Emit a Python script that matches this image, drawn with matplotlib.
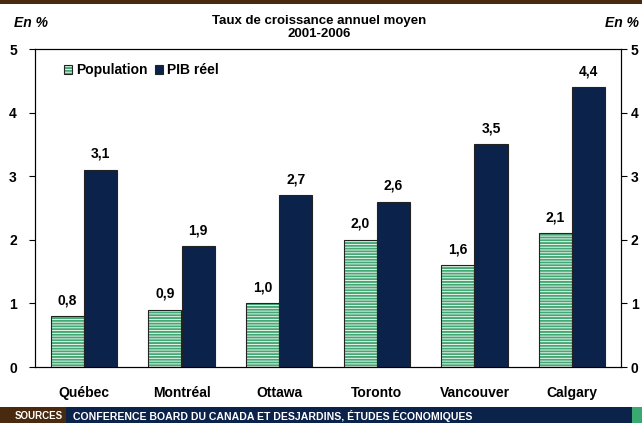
import numpy as np
import matplotlib.pyplot as plt
from matplotlib.patches import Rectangle

# Data
villes = ['Québec', 'Montréal', 'Ottawa', 'Toronto', 'Vancouver', 'Calgary']
population = [0.8, 0.9, 1.0, 2.0, 1.6, 2.1]
pib_reel = [3.1, 1.9, 2.7, 2.6, 3.5, 4.4]

vert = '#45a874'
marine = '#0b234b'
brun = '#4a2a0e'
W, H = 642, 423

plt.rcParams['font.family'] = ['Liberation Sans', 'DejaVu Sans']
plt.rcParams['hatch.linewidth'] = 1.4

fig = plt.figure(figsize=(W / 100, H / 100), dpi=100)
ax = fig.add_axes([35/W, 1 - 367/H, (621-35)/W, (367-49)/H])

x = np.arange(len(villes))
w = 0.34

# Population: white bars with green horizontal stripes, dark outline
ax.bar(x - w/2, population, w, facecolor='white', edgecolor=vert,
       hatch='------', linewidth=0, zorder=2)
ax.bar(x - w/2, population, w, facecolor='none', edgecolor='#222222',
       linewidth=0.8, zorder=3)
ax.bar(x + w/2, pib_reel, w, color=marine, edgecolor='#222222',
       linewidth=0.8, zorder=3)

for xi, v in zip(x - w/2, population):
    ax.text(xi, v + 0.14, f'{v:.1f}'.replace('.', ','), ha='center', va='bottom',
            fontsize=10, fontweight='bold')
for xi, v in zip(x + w/2, pib_reel):
    ax.text(xi, v + 0.14, f'{v:.1f}'.replace('.', ','), ha='center', va='bottom',
            fontsize=10, fontweight='bold')

ax.set_xlim(-0.5, len(villes) - 0.5)
ax.set_ylim(0, 5)
ax.set_yticks(range(6))
ax.set_xticks(x)
ax.set_xticklabels(villes, fontsize=10, fontweight='bold')
ax.tick_params(axis='x', length=0, pad=14)
ax.tick_params(axis='y', direction='out', length=4, labelsize=10, pad=9)
for lab in ax.get_yticklabels():
    lab.set_fontweight('bold')
for s in ax.spines.values():
    s.set_linewidth(0.8)

# Right axis, same scale
ax2 = ax.twinx()
ax2.set_ylim(0, 5)
ax2.set_yticks(range(6))
ax2.tick_params(axis='y', direction='out', length=4, labelsize=10, pad=3)
for lab in ax2.get_yticklabels():
    lab.set_fontweight('bold')
for s in ax2.spines.values():
    s.set_linewidth(0.8)

# Legend
h_pop = (Rectangle((0, 0), 1, 1, facecolor='white', edgecolor=vert, hatch='------', linewidth=0),
         Rectangle((0, 0), 1, 1, facecolor='none', edgecolor='#222222', linewidth=0.8))
h_pib = Rectangle((0, 0), 1, 1, facecolor=marine, edgecolor='#222222', linewidth=0.8)
fig.legend([h_pop, h_pib], ['Population', 'PIB réel'], loc='center left',
           bbox_to_anchor=(64/W, 1 - 70/H), ncol=2, frameon=False,
           borderpad=0, borderaxespad=0,
           handlelength=0.6, handleheight=0.6, handletextpad=0.3,
           columnspacing=0.5, prop={'size': 10, 'weight': 'bold'})

# Title and unit labels
fig.text(0.497, 1 - 27.5/H, 'Taux de croissance annuel moyen\n2001-2006', ha='center',
         va='center', fontsize=9.5, fontweight='bold', linespacing=1.15)
fig.text(14/W, 1 - 23/H, 'En %', ha='left', va='center', fontsize=10,
         fontweight='bold', style='italic')
fig.text(639/W, 1 - 23/H, 'En %', ha='right', va='center', fontsize=10,
         fontweight='bold', style='italic')

# Top band
fig.patches.append(Rectangle((0, 1 - 4/H), 1, 4/H, transform=fig.transFigure,
                             facecolor=brun, edgecolor='none'))
# Bottom band
fig.patches.append(Rectangle((0, 0), 1, 16/H, transform=fig.transFigure,
                             facecolor=marine, edgecolor='none'))
fig.patches.append(Rectangle((0, 0), 66/W, 16/H, transform=fig.transFigure,
                             facecolor=brun, edgecolor='none'))
fig.patches.append(Rectangle((632/W, 0), 10/W, 16/H, transform=fig.transFigure,
                             facecolor='#3aa870', edgecolor='none'))
fig.text(39/W, 7/H, 'SOURCES', ha='center', va='center', fontsize=7,
         fontweight='bold', color='white')
fig.text(73/W, 7/H, 'CONFERENCE BOARD DU CANADA ET DESJARDINS, ÉTUDES ÉCONOMIQUES',
         ha='left', va='center', fontsize=7.6, fontweight='bold', color='white')

fig.savefig('out.png', dpi=100)
